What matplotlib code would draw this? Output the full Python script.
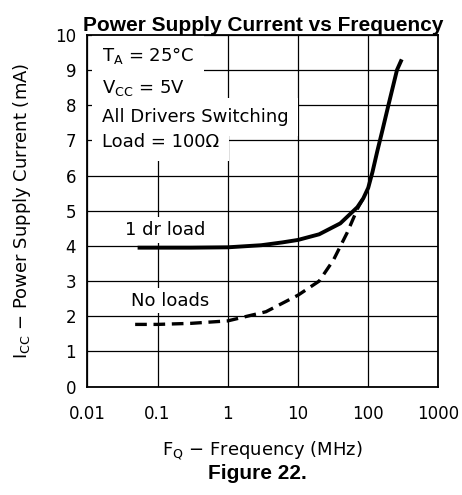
import numpy as np
import matplotlib
matplotlib.use("Agg")
import matplotlib.pyplot as plt

# data
freq_load = [0.052, 0.1, 0.3, 1, 3, 6, 10, 20, 40, 70, 85, 100, 115, 135, 160, 194, 257, 300]
icc_load = [3.95, 3.95, 3.95, 3.96, 4.02, 4.1, 4.17, 4.33, 4.64, 5.1, 5.35, 5.65, 6.1, 6.7, 7.3, 8.0, 9.0, 9.3]

freq_noload = [0.048, 0.1, 0.3, 1, 3.5, 10, 20, 32, 50, 72, 85]
icc_noload = [1.77, 1.77, 1.8, 1.87, 2.13, 2.6, 3.0, 3.6, 4.37, 5.1, 5.35]

xticks = [0.01, 0.1, 1, 10, 100, 1000]
xticklabels = ["0.01", "0.1", "1", "10", "100", "1000"]
yticks = list(range(0, 11))

plt.rcParams['font.family'] = 'DejaVu Sans'
fig = plt.figure(figsize=(4.62, 4.95), dpi=100)
ax = fig.add_axes([0.189, 0.2188, 0.760, 0.711])

ax.plot(freq_load, icc_load, color='black', lw=2.8, solid_capstyle='butt', zorder=3)
ax.plot(freq_noload, icc_noload, color='black', lw=2.4, dashes=(3.5, 2), zorder=3)

ax.set_xscale('log')
ax.set_xlim(0.01, 1000)
ax.set_ylim(0, 10)
ax.set_xticks(xticks)
ax.set_xticklabels(xticklabels)
ax.set_yticks(yticks)
ax.minorticks_off()
ax.tick_params(length=0, labelsize=12)
ax.tick_params(axis='x', pad=13)
ax.tick_params(axis='y', pad=8)
ax.grid(True, color='black', lw=0.9)
ax.set_axisbelow(True)
for s in ax.spines.values():
    s.set_linewidth(1.3)

box = dict(boxstyle='square,pad=0.55', fc='white', ec='none')
cond_lines = [r"T$_\mathregular{A}$ = 25°C", r"V$_\mathregular{CC}$ = 5V",
              "All Drivers Switching", "Load = 100Ω"]
cond_y = [9.4, 8.5, 7.66, 6.95]
for t, yy in zip(cond_lines, cond_y):
    ax.text(0.016, yy, t, fontsize=13, va='center', ha='left', bbox=box, zorder=2)

lbl_box = dict(boxstyle='square,pad=0.2', fc='white', ec='none')
ax.text(0.128, 4.45, "1 dr load", fontsize=13, ha='center', va='center', bbox=lbl_box, zorder=2)
ax.text(0.15, 2.44, "No loads", fontsize=13, ha='center', va='center', bbox=lbl_box, zorder=2)

ax.set_xlabel(r"F$_\mathregular{Q}$ − Frequency (MHz)", fontsize=13, labelpad=12)
ax.set_ylabel(r"I$_\mathregular{CC}$ − Power Supply Current (mA)", fontsize=13, labelpad=16)
ax.set_title("Power Supply Current vs Frequency", fontsize=15, fontweight='bold',
             family='Liberation Sans', pad=3)
fig.text(0.558, 0.044, "Figure 22.", fontsize=15, fontweight='bold',
         family='Liberation Sans', ha='center', va='center')

fig.savefig("out.png", dpi=100)
